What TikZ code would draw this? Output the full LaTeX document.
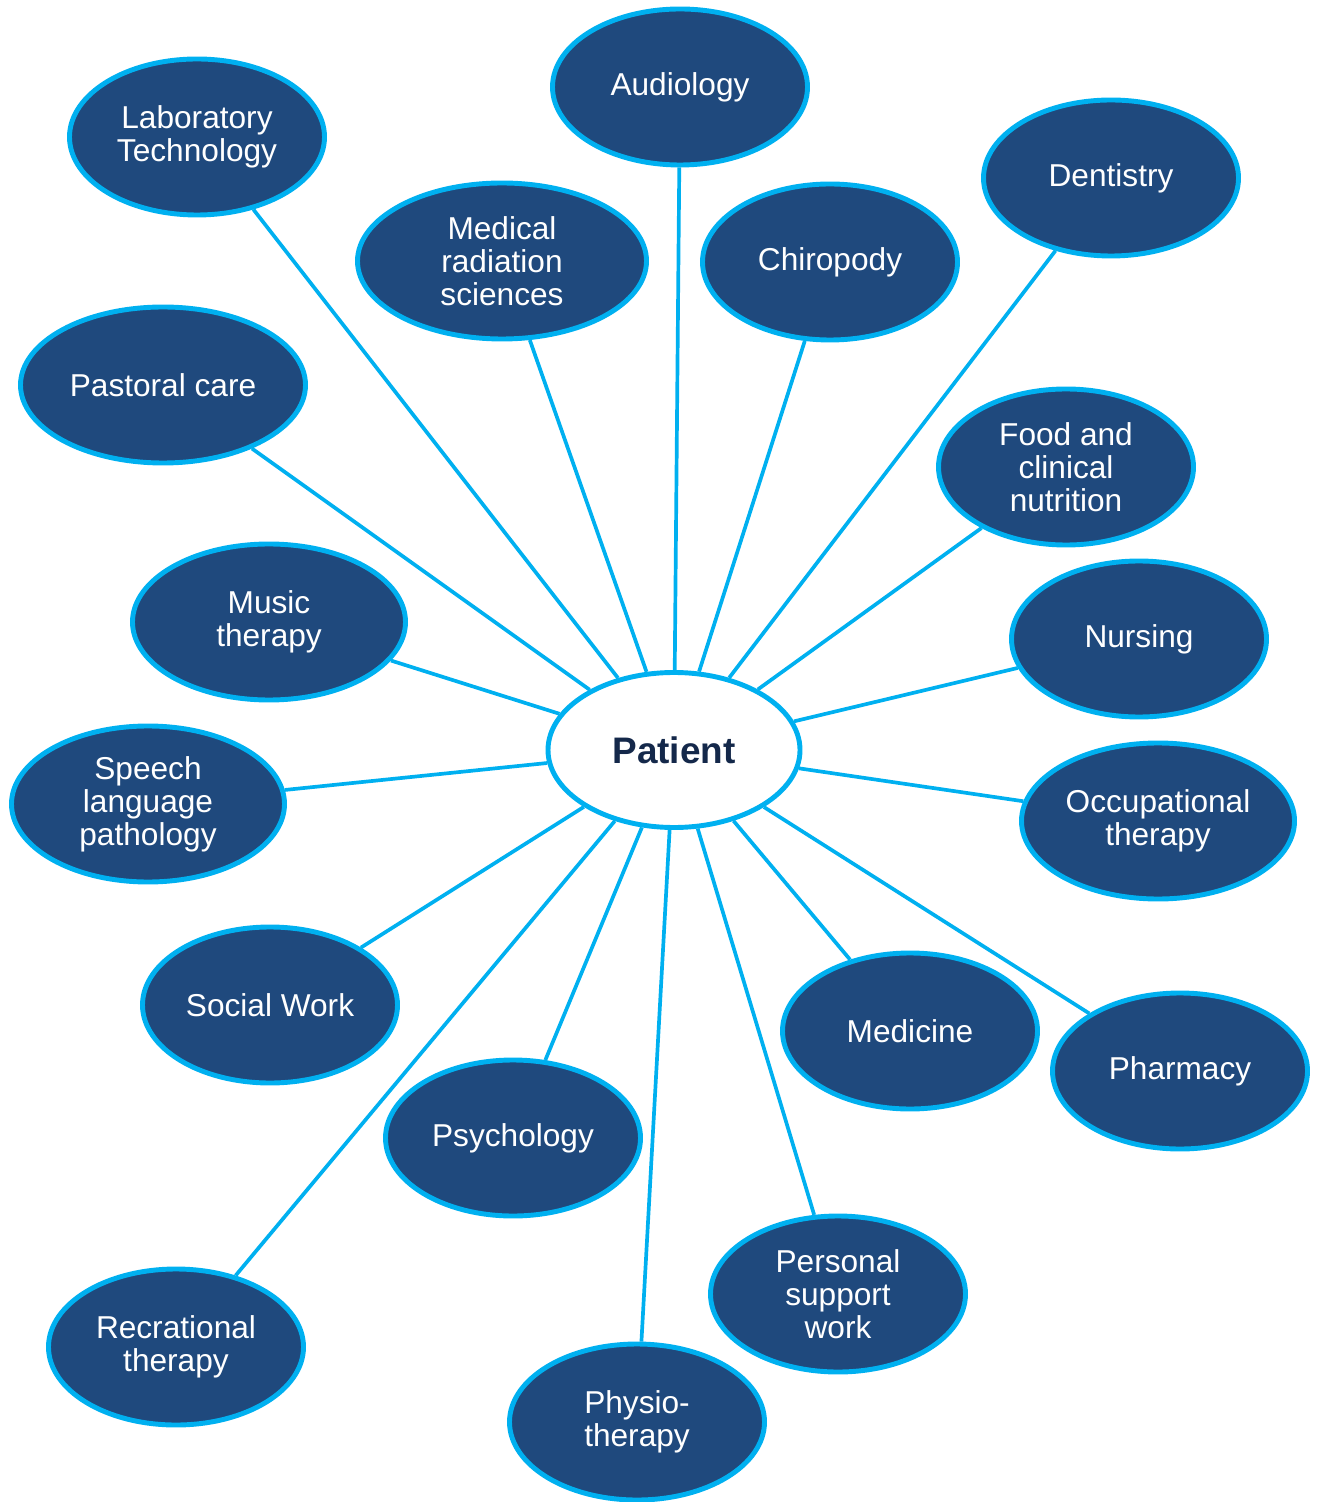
\documentclass[tikz,border=0pt]{standalone}
\usepackage{fontspec}
\setmainfont{Liberation Sans}
\usepackage{xcolor}
\usetikzlibrary{shapes.geometric}
\definecolor{navy}{HTML}{1F497D}
\definecolor{sky}{HTML}{00B0F0}
\definecolor{ink}{HTML}{14284A}
\tikzset{
  role/.style={ellipse, draw=sky, fill=navy, line width=1.4pt, inner sep=0pt,
    minimum width=2.55cm, minimum height=1.56cm, align=center, text=white,
    font=\fontsize{9}{9.4}\selectfont},
  hub/.style={ellipse, draw=sky, fill=white, line width=1.4pt, inner sep=0pt,
    minimum width=2.52cm, minimum height=1.55cm, text=ink,
    font=\fontsize{10.5}{12}\selectfont\bfseries},
  spoke/.style={draw=sky, line width=1.05pt},
}
\begin{document}
\begin{tikzpicture}
  \useasboundingbox (0,0) rectangle (13.17,-15.02);
  \node[hub] (patient) at (6.74,-7.50) {Patient};
  % disciplines round the patient
  \node[role] (lab) at (1.97,-1.37) {Laboratory\\Technology};
  \node[role] (audio) at (6.80,-0.87) {Audiology};
  \node[role, minimum width=2.89cm] (radio) at (5.02,-2.61) {Medical\\radiation\\sciences};
  \node[role] (chiro) at (8.30,-2.62) {Chiropody};
  \node[role] (dent) at (11.11,-1.78) {Dentistry};
  \node[role, minimum width=2.85cm] (pastor) at (1.63,-3.85) {Pastoral care};
  \node[role] (food) at (10.66,-4.67) {Food and\\clinical\\nutrition};
  \node[role, minimum width=2.73cm] (music) at (2.69,-6.22) {Music\\therapy};
  \node[role] (nurse) at (11.39,-6.39) {Nursing};
  \node[role, minimum width=2.73cm] (speech) at (1.48,-8.04) {Speech\\language\\pathology};
  \node[role, minimum width=2.73cm] (occu) at (11.58,-8.21) {Occupational\\therapy};
  \node[role] (social) at (2.70,-10.05) {Social Work};
  \node[role] (med) at (9.10,-10.31) {Medicine};
  \node[role] (pharm) at (11.80,-10.71) {Pharmacy};
  \node[role] (psych) at (5.13,-11.38) {Psychology};
  \node[role] (psw) at (8.38,-12.94) {Personal\\support\\work};
  \node[role] (recr) at (1.76,-13.47) {Recrational\\therapy};
  \node[role] (physio) at (6.37,-14.22) {Physio-\\therapy};
  % spokes
  \foreach \r in {lab,audio,radio,chiro,dent,pastor,food,music,nurse,speech,occu,social,med,pharm,psych,psw,recr,physio}
    \draw[spoke] (patient) -- (\r);
\end{tikzpicture}
\end{document}
